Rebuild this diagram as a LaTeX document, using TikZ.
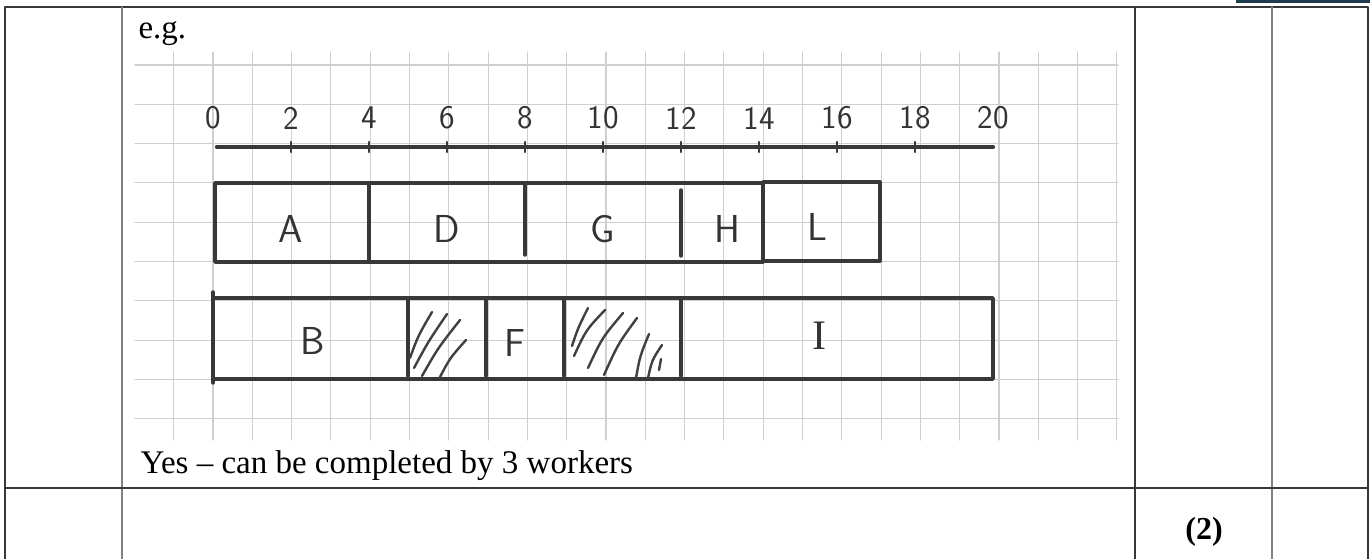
\documentclass[tikz,border=0pt]{standalone}
\usepackage{fontspec}
\setmainfont{Liberation Serif}
\definecolor{headbar}{HTML}{1F3B4E}
\begin{document}
\begin{tikzpicture}[x=1pt, y=-1pt, line cap=round, line join=round,
    rule/.style={line width=2.2pt, black!78},
    thinrule/.style={line width=1.6pt, black!50},
    gridline/.style={line width=1.1pt, black!19},
    pen/.style={line width=3.4pt, black!78},
    hatch/.style={line width=2.4pt, black!75},
    hand/.style={font=\sffamily\fontsize{33}{33}\selectfont, text=black!80},
    handbig/.style={font=\sffamily\fontsize{39}{39}\selectfont, text=black!80},
    print/.style={font=\fontsize{33}{38}\selectfont, anchor=base west}]
  \useasboundingbox (0,0) rectangle (1370,559);
  % Mark-scheme table round the answer
  \fill[headbar] (1236,0) rectangle (1370,3);
  \draw[rule] (5,559) -- (5,7) -- (1368,7) -- (1368,559);
  \draw[thinrule] (122,7) -- (122,559);
  \draw[rule, line width=2.6pt] (1135,7) -- (1135,559);
  \draw[thinrule] (1272,7) -- (1272,559);
  \draw[rule] (5,488) -- (1368,488);
  % Squared paper of the scanned answer
  \foreach \k in {-1,...,23}
    \draw[gridline] ({213+39.3*\k},52) -- ({213+39.3*\k},440);
  \foreach \j in {0,...,9}
    \draw[gridline] (135,{65+39.3*\j}) -- (1118,{65+39.3*\j});
  % Gantt chart, one unit of time per square
  \begin{scope}[shift={(213,0)}, x=39pt]
    \draw[pen, line width=4.2pt] (0.1,147) -- (20,147);
    \foreach \t in {2,4,...,18}
      \draw[pen, line width=2.4pt] (\t,142) -- (\t,152);
    \foreach \t in {0,2,...,20}
      \node[hand] (tick\t) at (\t,118) {\t};
    % first worker
    \draw[pen] (0.05,183) rectangle (14.1,262);
    \draw[pen] (14.1,182) rectangle (17.1,261);
    \draw[pen] (4,183) -- (4,262);
    \draw[pen] (8,183) -- (8,255);
    \draw[pen] (12,190) -- (12,256);
    \node[handbig] (actA) at (2,229) {A};
    \node[handbig] (actD) at (6,229) {D};
    \node[handbig] (actG) at (10,229) {G};
    \node[handbig] (actH) at (13.2,229) {H};
    \node[handbig] (actL) at (15.5,227) {L};
    % second worker
    \draw[pen] (0,298) rectangle (20,379);
    \draw[pen] (0,292) -- (0,383);
    \foreach \t in {5,7,9,12}
      \draw[pen] (\t,300) -- (\t,376);
    \node[handbig] (actB) at (2.55,341) {B};
    \node[handbig] (actF) at (7.75,343) {F};
    \node[handbig, font=\fontsize{42}{42}\selectfont] (actI) at (15.55,336) {I};
  \end{scope}
  % idle time of the second worker, hatched by hand
  \draw[hatch] (410,358) .. controls (418,336) .. (432,312);
  \draw[hatch] (414,368) .. controls (428,342) .. (447,314);
  \draw[hatch] (422,376) .. controls (438,348) .. (460,320);
  \draw[hatch] (440,377) .. controls (450,358) .. (466,340);
  \draw[hatch] (572,346) .. controls (578,328) .. (588,308);
  \draw[hatch] (574,356) .. controls (586,330) .. (605,310);
  \draw[hatch] (588,368) .. controls (602,338) .. (623,313);
  \draw[hatch] (604,375) .. controls (618,344) .. (637,318);
  \draw[hatch] (636,378) .. controls (640,356) .. (649,334);
  \draw[hatch] (648,378) .. controls (652,360) .. (662,345);
  \draw[hatch] (659,370) -- (661,359);
  % printed texts
  \node[print] (eg) at (135,39) {e.g.};
  \node[print] (verdict) at (137,473) {Yes -- can be completed by 3 workers};
  \node[font=\bfseries\fontsize{32}{36}\selectfont, anchor=base] (marks) at (1204,539) {(2)};
\end{tikzpicture}
\end{document}
